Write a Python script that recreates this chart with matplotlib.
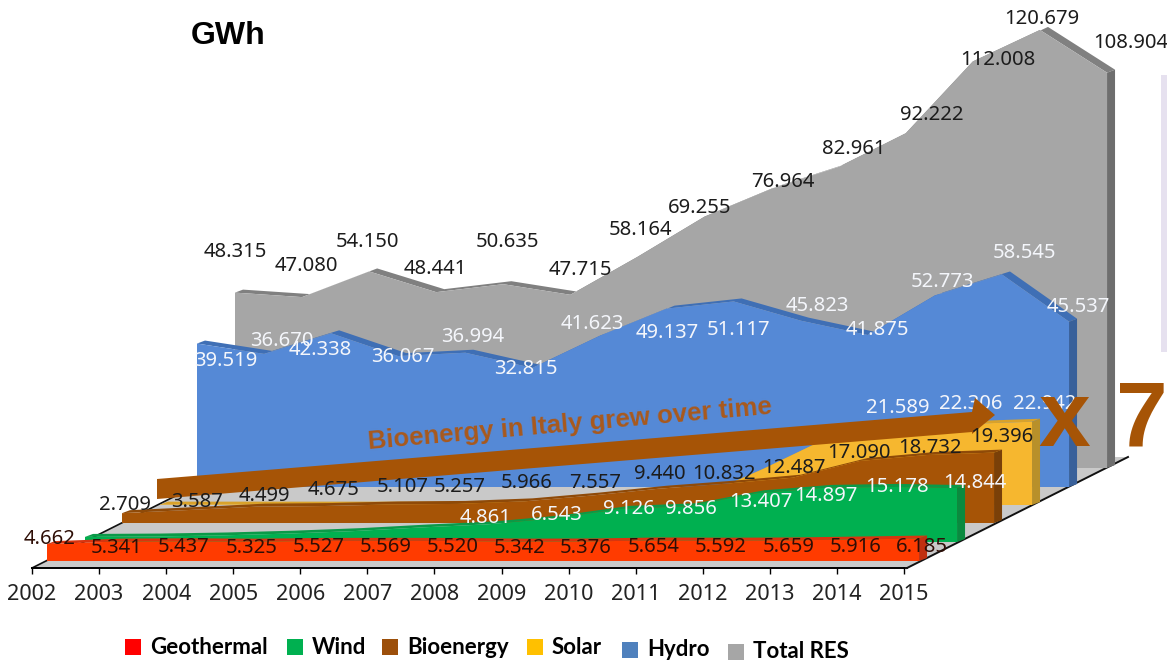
import matplotlib
matplotlib.use('Agg')
import matplotlib.pyplot as plt
from matplotlib.patches import Polygon, Rectangle
from matplotlib.transforms import Affine2D
import numpy as np

W, H = 1167, 662

# DATA (GWh; unlabelled years of wind and solar are estimates)
years = np.arange(2002, 2016)
geothermal = [4.662, 5.341, 5.437, 5.325, 5.527, 5.569, 5.520, 5.342, 5.376, 5.654, 5.592, 5.659, 5.916, 6.185]
wind = [1.4, 1.5, 1.8, 2.3, 3.0, 4.0, 4.861, 6.543, 9.126, 9.856, 13.407, 14.897, 15.178, 14.844]
bioenergy = [2.709, 3.587, 4.499, 4.675, 5.107, 5.257, 5.966, 7.557, 9.440, 10.832, 12.487, 17.090, 18.732, 19.396]
solar = [0.1, 0.1, 0.1, 0.1, 0.1, 0.1, 0.2, 0.7, 1.9, 10.0, 18.9, 21.589, 22.306, 22.942]
hydro = [39.519, 36.670, 42.338, 36.067, 36.994, 32.815, 41.623, 49.137, 51.117, 45.823, 41.875, 52.773, 58.545, 45.537]
total = [48.315, 47.080, 54.150, 48.441, 50.635, 47.715, 58.164, 69.255, 76.964, 82.961, 92.222, 112.008, 120.679, 108.904]

# LAYOUT: pixel scale of the chart and where each label sits (picture pixels)
px_year = 67.08
px_gwh = 3.63
axis_left, axis_y = 32, 568
depth_x, depth_y = 8, 3

label_font = 'Noto Sans'
total_xy = [(235, 252), (306, 266), (367, 242), (435, 269), (507, 242), (580, 270), (640, 230),
            (700, 208), (783, 182), (854, 149), (932, 115), (998, 60), (1042, 19), (1131, 43)]
hydro_xy = [(226, 361), (282, 341), (320, 350), (403, 357), (473, 337), (526, 369), (592, 324),
            (667, 333), (739, 330), (817, 306), (877, 330), (942, 282), (1024, 253), (1078, 307)]
solar_xy = [(898, 408), (971, 404), (1045, 404)]
bio_xy = [(125, 505), (197, 502), (264, 496), (334, 490), (403, 487), (460, 487), (527, 483),
          (595, 483), (660, 474), (724, 474), (794, 468), (859, 453), (930, 448), (1002, 437)]
wind_xy = [(486, 518), (557, 515), (629, 509), (691, 509), (761, 502), (826, 496), (897, 487), (975, 483)]
geo_xy = [(50, 539), (117, 548), (184, 547), (252, 548), (319, 547), (386, 547), (453, 547),
          (520, 548), (586, 548), (654, 547), (721, 547), (789, 547), (856, 547), (922, 547)]

# back to front: values, left pixel, base pixel, face, top strip, side
series = [
    (total, 235, 468, '#a6a6a6', '#808080', '#6e6e6e'),
    (hydro, 197, 487, '#5589d6', '#3f6fb5', '#38609a'),
    (solar, 160, 505, '#f6b72f', '#d9a22a', '#b8902a'),
    (bioenergy, 122, 523, '#a65406', '#8f4a08', '#7a4008'),
    (wind, 85, 542, '#00b050', '#0a9a48', '#0a8a3f'),
    (geothermal, 47, 561, '#ff3b00', '#d9340f', '#c0300f'),
]

legend_names = ['Geothermal', 'Wind', 'Bioenergy', 'Solar', 'Hydro', 'Total RES']
legend_colors = ['#ff0000', '#00b050', '#9c4f0a', '#ffc000', '#4f81bd', '#a6a6a6']
legend_x = [125, 287, 382, 527, 622, 728]
legend_y = [647, 647, 647, 647, 650, 652]

fig = plt.figure(figsize=(W / 100, H / 100), dpi=100)
pix = Affine2D().scale(1 / W, -1 / H).translate(0, 1) + fig.transFigure

ax = fig.add_axes([axis_left / W, (H - axis_y) / H, px_year * 13 / W, axis_y / H])
ax.set_xlim(2002, 2015)
ax.set_ylim(0, axis_y / px_gwh)
ax.patch.set_alpha(0)
for s in ['left', 'right', 'top']:
    ax.spines[s].set_visible(False)
ax.spines['bottom'].set_linewidth(1.4)
ax.set_yticks([])
ax.set_xticks(years)
ax.tick_params(axis='x', length=4.5, width=1, pad=7, labelsize=15.6, labelcolor='#222222')
for t in ax.get_xticklabels():
    t.set_fontfamily(label_font)

# floor of the 3D box
ax.add_patch(Polygon([(32, 568), (907, 568), (1128, 457), (253, 457)], transform=pix,
                     fc='#c9c9c9', ec='none', clip_on=False, zorder=0))
ax.plot([32, 253], [568, 457], color='#111111', lw=1.2, transform=pix, clip_on=False, zorder=0.5)
ax.plot([907, 1128], [568, 457], color='#111111', lw=1.4, transform=pix, clip_on=False, zorder=0.5)
ax.plot([904, 907], [568, 568], color='#111111', lw=1.4, transform=pix, clip_on=False, zorder=0.5)

# each series is a 2D area pushed back by its own pixel offset
dx = depth_x / px_year
dy = depth_y / px_gwh
for n, (vals, left, base, face, top, side) in enumerate(series):
    vals = np.array(vals)
    tr = ax.transData + Affine2D().translate(left - axis_left, axis_y - base)
    z = 1 + n
    ax.fill(np.r_[years, (years + dx)[::-1]], np.r_[vals, (vals + dy)[::-1]], color=top, lw=0,
            transform=tr, clip_on=False, zorder=z)
    ax.fill([years[-1], years[-1] + dx, years[-1] + dx, years[-1]],
            [0, dy, vals[-1] + dy, vals[-1]], color=side, lw=0,
            transform=tr, clip_on=False, zorder=z + 0.1)
    ax.fill(np.r_[years[0], years, years[-1]], np.r_[0, vals, 0], color=face, lw=0,
            transform=tr, clip_on=False, zorder=z + 0.2)


def put_labels(vals, xy, color, z=10):
    for v, (x, y) in zip(vals, xy):
        fig.text(x, y, f'{v:.3f}', transform=pix, ha='center', va='center', color=color,
                 fontsize=14.6, family=label_font, zorder=z)


put_labels(total, total_xy, '#1c1c1c')
put_labels(hydro, hydro_xy, '#f4f6fb')
put_labels(solar[-3:], solar_xy, '#f4f6fb')
put_labels(bioenergy, bio_xy, '#1c1c1c', z=25)
put_labels(wind[-8:], wind_xy, '#f4f6fb')
put_labels(geothermal, geo_xy, '#2e0e06')

# annotation arrow, comment and the "x 7" callout
fig.patches.append(Polygon([(157, 479), (972, 412), (975, 398), (995, 415), (972, 434), (972, 432), (157, 499)],
                           transform=pix, fc='#a65406', ec='none', zorder=20))
fig.text(570, 424, 'Bioenergy in Italy grew over time', transform=pix, ha='center', va='center',
         rotation=5, rotation_mode='anchor', color='#a9591c', fontsize=18.6, fontweight='bold',
         family='Liberation Sans', zorder=21)
fig.text(1064, 446, 'x', transform=pix, ha='center', va='baseline', color='#a65406', fontsize=67,
         fontweight='bold', family='Liberation Sans', zorder=22)
fig.text(1142, 446, '7', transform=pix, ha='center', va='baseline', color='#a65406', fontsize=67,
         fontweight='bold', family='Liberation Sans', zorder=22)

fig.text(228, 36, 'GWh', transform=pix, ha='center', va='center', color='black', fontsize=23,
         fontweight='bold', family='Liberation Sans')

# strip of another slide at the right edge
fig.patches.append(Rectangle((1161, 75), 6, 277, transform=pix, fc='#e6e1ef', ec='none', zorder=0))

for name, col, x, y in zip(legend_names, legend_colors, legend_x, legend_y):
    fig.patches.append(Rectangle((x, y - 8), 16, 16, transform=pix, fc=col, ec='none'))
    fig.text(x + 25, y, name, transform=pix, ha='left', va='center', color='black', fontsize=16,
             fontweight='bold', family='Lato')

fig.savefig('out.png', dpi=100)
